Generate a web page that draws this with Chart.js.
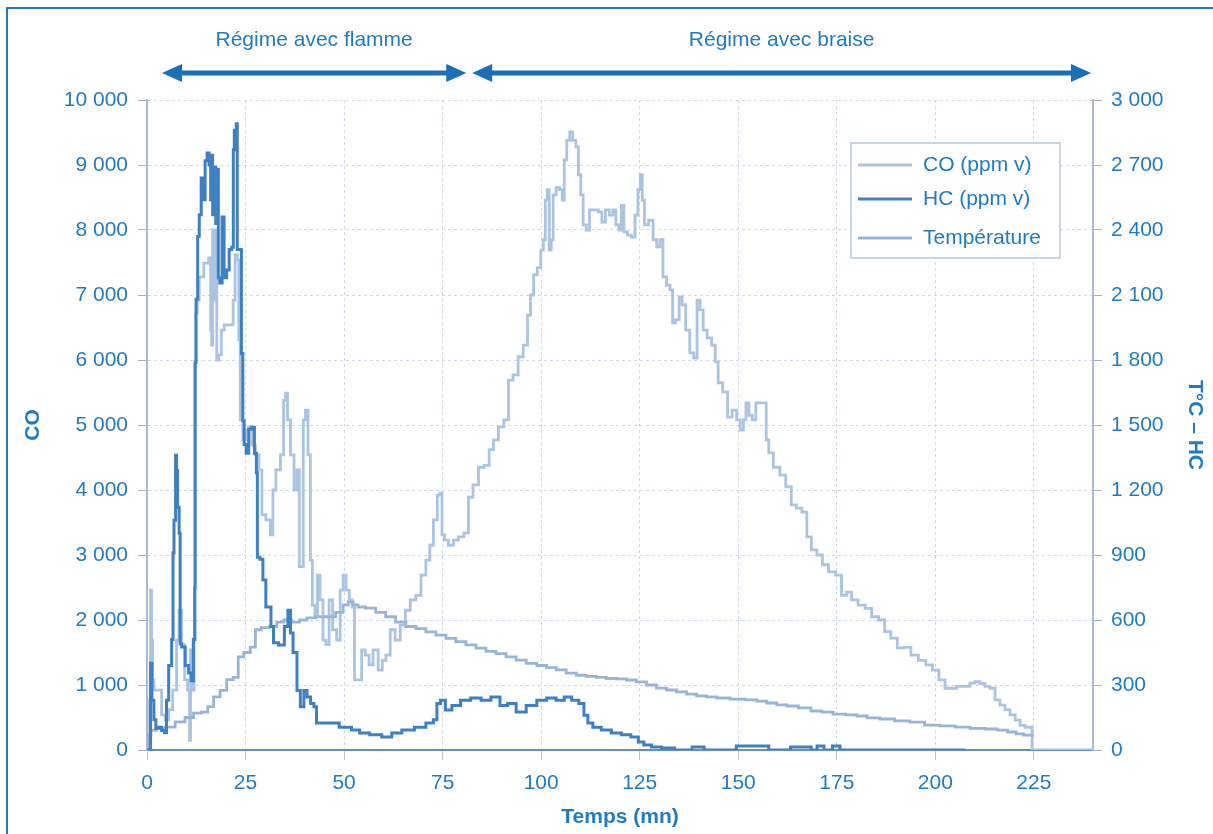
<!DOCTYPE html>
<html lang="fr">
<head>
<meta charset="utf-8">
<title>CO, HC et température en fonction du temps</title>
<script src="https://cdn.jsdelivr.net/npm/chart.js@4.4.1/dist/chart.umd.min.js"></script>
<style>
  html, body { margin: 0; padding: 0; background: #fff; overflow: hidden; }
  #frame { position: absolute; left: 6px; top: 7px; width: 1400px; height: 1000px;
           border-left: 2px solid #1f7bc2; border-top: 2px solid #1f7bc2; }
  #wrap { position: absolute; left: 0; top: 0; width: 1213px; height: 834px; }
</style>
</head>
<body>
<div id="frame"></div>
<div id="wrap"><canvas id="c" width="1213" height="834"></canvas></div>
<script>
// ---- Données ----
// Temps en minutes, CO en ppm v (axe de gauche)
const coTime = [0,0.5,0.8,1.0,1.3,1.5,2.0,3.3,4.1,5.1,5.9,7.1,7.9,8.4,9.2,9.9,10.7,10.9,11.2,11.7,12.2,12.2,12.5,13.0,13.5,15.3,16.0,16.3,16.5,16.8,17.0,17.6,17.8,18.6,19.1,20.1,21.6,22.1,22.6,23.2,23.4,23.9,24.7,25.4,26.2,27.0,28.0,28.8,29.5,30.8,31.8,32.1,33.3,34.4,34.9,35.4,35.9,36.9,37.7,38.4,38.9,39.4,39.9,40.5,41.2,41.7,42.2,43.0,43.5,44.3,45.0,45.8,46.6,47.6,48.6,49.4,50.1,50.9,51.7,52.4,52.9,54.2,54.7,56.0,56.7,58.0,59.3,60.1,61.1,62.3,63.6,64.9,66.2,67.4,69.0,70.0,71.5,72.0,73.3,74.0,74.6,75.1,75.8,77.1,78.4,79.6,81.2,81.9,83.5,84.7,86.3,87.3,88.5,89.8,91.3,92.1,93.6,94.7,96.2,96.9,97.7,98.5,99.5,100.3,100.8,101.3,101.8,102.3,102.8,103.3,104.3,105.1,105.6,106.1,106.9,107.6,108.4,109.2,109.7,110.4,110.9,112.0,112.5,114.0,115.0,115.8,116.8,117.8,118.6,119.3,120.1,120.6,121.4,122.4,123.4,124.2,124.9,125.4,125.9,126.5,128.0,128.8,129.8,130.5,131.3,132.3,133.1,133.6,134.6,135.4,136.1,137.2,138.2,139.2,139.9,140.7,141.5,142.7,143.8,144.5,145.3,146.8,147.8,149.1,150.1,150.9,151.7,152.2,153.2,153.9,155.0,156.7,157.5,158.0,159.8,161.3,162.8,164.1,165.4,166.9,167.9,169.2,170.7,172.0,173.8,175.6,176.8,178.1,179.4,181.4,183.0,184.7,186.5,187.8,189.6,191.1,192.9,194.7,196.7,198.5,200.0,201.8,203.1,204.3,206.4,208.1,209.4,210.7,212.0,213.2,214.5,215.8,217.0,218.3,219.6,220.9,222.1,223.4,224.4,224.7,240];
const coValues = [0,80,770,2460,1690,1080,920,920,540,460,620,920,1690,2150,1620,1080,920,150,1540,920,1690,5890,6720,6920,7280,7490,7570,6460,6230,8000,6920,8000,6000,6080,6460,6540,6540,6920,7620,7540,6310,5080,4770,4920,4970,4690,4540,4310,3620,3540,3310,4000,4310,4540,5380,5490,5080,4540,4000,4310,2820,2820,5080,5230,4540,2920,2230,2080,2690,2310,1690,1620,2310,1850,1690,2460,2690,2460,2310,2200,1080,1080,1540,1460,1310,1540,1230,1380,1460,1850,1690,1920,2150,2310,2380,2690,2920,3150,3540,3920,3950,3310,3230,3150,3230,3280,3340,3890,4080,4350,4380,4620,4770,4970,5080,5690,5770,6050,6230,6690,7000,7310,7420,7690,7850,8460,8620,7690,7850,8540,8650,8620,8460,9080,9380,9510,9380,9280,8850,8540,8080,8000,8310,8310,8280,8120,8310,8230,8310,8080,8000,8380,7970,7920,7890,8230,8620,8850,8460,8080,8150,7850,7740,7850,7280,7150,7080,6570,6620,6970,6850,6460,6110,6030,6920,6770,6460,6340,6230,5970,5650,5510,5120,5230,5080,4920,5080,5340,5150,5080,5340,5340,4770,4570,4350,4230,4050,3770,3720,3660,3280,3080,3000,2850,2740,2690,2380,2430,2310,2230,2180,2050,2000,1820,1720,1570,1580,1460,1380,1310,1230,1080,950,950,980,980,1030,1050,1020,980,950,770,690,620,540,460,380,350,350,0,0];

// Temps en minutes, HC en ppm v (axe de droite)
const hcTime = [0,0.8,1.0,1.5,2.0,2.5,3.3,4.1,4.8,5.1,5.9,6.6,6.6,7.1,7.4,7.6,7.9,8.4,8.4,9.2,10.2,10.9,11.5,12.0,12.2,12.2,12.7,13.0,13.5,14.0,14.5,15.0,15.5,16.0,16.3,16.5,16.8,17.3,17.6,18.1,18.1,18.8,19.3,19.8,20.6,21.1,21.9,21.9,22.4,22.9,22.9,23.7,24.2,24.4,24.9,25.4,26.2,27.0,27.5,28.0,28.0,29.3,29.5,30.8,32.1,32.1,34.6,35.1,36.4,36.4,37.7,38.4,39.4,40.2,41.0,42.0,42.7,43.3,46.6,50.9,52.9,55.0,58.0,61.1,63.1,66.2,69.5,72.0,73.3,73.8,75.1,76.3,78.4,80.7,83.5,86.0,88.5,90.6,92.4,94.9,97.5,100.3,102.5,105.1,106.6,108.9,110.2,111.5,112.2,114.0,116.5,119.1,121.6,123.9,125.4,126.7,129.3,131.8,135.9,140.7,142.0,157.0,158.5,168.0,169.0,171.0,172.5,175.3,176.3,207.6];
const hcValues = [0,0,400,230,140,100,105,90,80,230,390,510,910,1060,1360,1290,1120,1000,490,475,390,355,320,510,750,1790,2080,2370,2470,2640,2540,2720,2755,2700,2540,2745,2470,2690,2430,2680,2180,2155,2460,2180,2215,2310,2320,2770,2860,2890,2310,2310,1830,1520,1410,1370,1480,1490,1370,1280,890,880,785,660,570,495,485,570,645,540,450,275,200,275,245,215,200,125,125,105,92,78,70,60,78,92,105,125,140,215,230,185,205,230,240,230,245,205,215,175,205,230,240,230,245,230,215,160,125,105,92,78,70,60,37,23,14,9,0,14,0,18,0,14,0,18,0,18,0,0];

// Temps en minutes, température en °C (axe de droite)
const tempTime = [0,0.5,1.5,3.3,5.9,8.4,10.9,12.7,14.8,16.0,17.8,19.3,21.1,22.6,23.7,25.4,27.0,28.0,30.0,32.1,33.8,35.6,37.7,39.7,41.5,44.0,46.6,49.1,50.4,51.7,52.9,54.2,56.7,59.3,61.8,64.4,66.9,69.5,72.0,74.6,77.1,79.6,82.2,84.7,87.3,89.8,92.4,94.9,97.5,100.3,102.5,105.1,107.6,110.2,112.7,115.3,117.8,120.4,122.9,125.4,128.0,130.5,133.1,135.6,138.2,140.7,143.3,145.8,150.1,153.4,156.0,158.5,161.1,163.6,166.9,170.0,172.5,175.6,178.9,181.4,184.0,187.8,191.6,195.4,199.2,203.1,206.9,210.7,214.5,217.0,219.6,221.4,223.4,225.0];
const tempValues = [0,70,92,100,106,130,150,170,175,200,245,275,325,335,430,450,475,555,565,570,590,600,590,600,610,615,615,635,670,683,670,660,655,635,615,590,570,560,545,530,515,500,485,470,455,445,430,415,400,390,380,370,355,345,340,335,330,328,323,314,300,286,277,268,258,250,245,240,235,231,226,217,208,203,194,180,175,166,162,157,148,143,134,129,115,111,106,100,97,92,83,74,69,69];

// Graduations
const xTickStep = 25;
const coTickStep = 1000;
const rightTickStep = 300;

// Régimes de combustion (bornes en minutes)
const regimeLabels = ['Régime avec flamme', 'Régime avec braise'];
const regimeFrom = [3.8, 82.5];
const regimeTo = [81, 239.5];

// ---- Mise en forme ----
const BLUE_TEXT = '#1f7cc4';
const FONT = '"Liberation Sans", Arial, Helvetica, sans-serif';

const toPoints = (t, v) => t.map((x, i) => ({ x, y: v[i] }));
const fmt = v => String(v).replace(/\B(?=(\d{3})+(?!\d))/g, '\u00a0');

const regimePlugin = {
  id: 'regimes',
  afterDraw(chart) {
    const { ctx, scales: { x } } = chart;
    const y = 73, head = 20, half = 9;
    ctx.save();
    ctx.lineWidth = 5;
    regimeLabels.forEach((label, i) => {
      const x1 = x.getPixelForValue(regimeFrom[i]);
      const x2 = x.getPixelForValue(regimeTo[i]);
      ctx.strokeStyle = '#1a6fb6';
      ctx.fillStyle = '#1a6fb6';
      ctx.beginPath();
      ctx.moveTo(x1 + head - 2, y);
      ctx.lineTo(x2 - head + 2, y);
      ctx.stroke();
      ctx.beginPath();
      ctx.moveTo(x1, y); ctx.lineTo(x1 + head, y - half); ctx.lineTo(x1 + head, y + half); ctx.closePath();
      ctx.fill();
      ctx.beginPath();
      ctx.moveTo(x2, y); ctx.lineTo(x2 - head, y - half); ctx.lineTo(x2 - head, y + half); ctx.closePath();
      ctx.fill();
      ctx.font = '21px ' + FONT;
      ctx.textAlign = 'center';
      ctx.textBaseline = 'middle';
      ctx.fillStyle = BLUE_TEXT;
      ctx.fillText(label, (x1 + x2) / 2, 40);
    });
    ctx.restore();
  }
};

const legendPlugin = {
  id: 'boxLegend',
  afterDraw(chart) {
    const { ctx } = chart;
    const bx = 851, by = 143, bw = 209, bh = 115;
    const rows = [165, 199, 238];
    ctx.save();
    ctx.fillStyle = '#ffffff';
    ctx.fillRect(bx, by, bw, bh);
    ctx.strokeStyle = '#b9c9dd';
    ctx.lineWidth = 1.5;
    ctx.strokeRect(bx, by, bw, bh);
    chart.data.datasets.forEach((ds, i) => {
      ctx.strokeStyle = ds.borderColor;
      ctx.lineWidth = 3;
      ctx.beginPath();
      ctx.moveTo(858, rows[i]);
      ctx.lineTo(912, rows[i]);
      ctx.stroke();
      ctx.fillStyle = BLUE_TEXT;
      ctx.font = '21px ' + FONT;
      ctx.textAlign = 'left';
      ctx.textBaseline = 'middle';
      ctx.fillText(ds.label, 923, rows[i]);
    });
    ctx.restore();
  }
};

const tickFont = { family: FONT, size: 21 };
const titleFont = { family: FONT, size: 21, weight: 'bold' };

new Chart(document.getElementById('c'), {
  type: 'line',
  data: {
    datasets: [
      { label: 'CO (ppm v)', data: toPoints(coTime, coValues), yAxisID: 'yCO',
        borderColor: '#aac4e2', borderWidth: 2.8, pointRadius: 0, stepped: 'middle', order: 2 },
      { label: 'HC (ppm v)', data: toPoints(hcTime, hcValues), yAxisID: 'yRight',
        borderColor: '#3f80c2', borderWidth: 3, pointRadius: 0, stepped: 'middle', order: 0 },
      { label: 'Température', data: toPoints(tempTime, tempValues), yAxisID: 'yRight',
        borderColor: '#98b5d9', borderWidth: 2.8, pointRadius: 0, stepped: 'middle', order: 1 }
    ]
  },
  options: {
    responsive: false,
    animation: false,
    layout: { padding: { left: 21, right: 6, top: 100, bottom: 4 } },
    plugins: { legend: { display: false }, tooltip: { enabled: false } },
    scales: {
      x: {
        type: 'linear', min: 0, max: 240,
        afterFit(s) { s.height = 80; },
        ticks: { stepSize: xTickStep, includeBounds: false, color: BLUE_TEXT, font: tickFont, padding: 11 },
        grid: { color: '#cfdbe8', tickColor: '#b5c5d8', tickLength: 10, lineWidth: 1 },
        border: { color: '#5b93cb', width: 2, dash: [3, 3] },
        title: { display: true, text: 'Temps (mn)', color: BLUE_TEXT, font: titleFont, padding: 0 }
      },
      yCO: {
        type: 'linear', position: 'left', min: 0, max: 10000,
        afterFit(s) { s.width = 126; },
        ticks: { stepSize: coTickStep, color: BLUE_TEXT, font: tickFont, padding: 10, callback: fmt },
        grid: { color: '#cfdbe8', tickColor: '#9fb1c8', tickLength: 9, lineWidth: 1 },
        border: { color: '#a9bbd2', width: 2, dash: [3, 3] },
        title: { display: true, text: 'CO', color: BLUE_TEXT, font: titleFont, padding: 0 }
      },
      yRight: {
        type: 'linear', position: 'right', min: 0, max: 3000,
        afterFit(s) { s.width = 114; },
        ticks: { stepSize: rightTickStep, color: BLUE_TEXT, font: tickFont, padding: 9, callback: fmt },
        grid: { drawOnChartArea: false, tickColor: '#9fb1c8', tickLength: 9 },
        border: { color: '#a9bbd2', width: 2 },
        title: { display: true, text: 'T°C – HC', color: BLUE_TEXT, font: titleFont, padding: 0 }
      }
    }
  },
  plugins: [regimePlugin, legendPlugin]
});
</script>
</body>
</html>
